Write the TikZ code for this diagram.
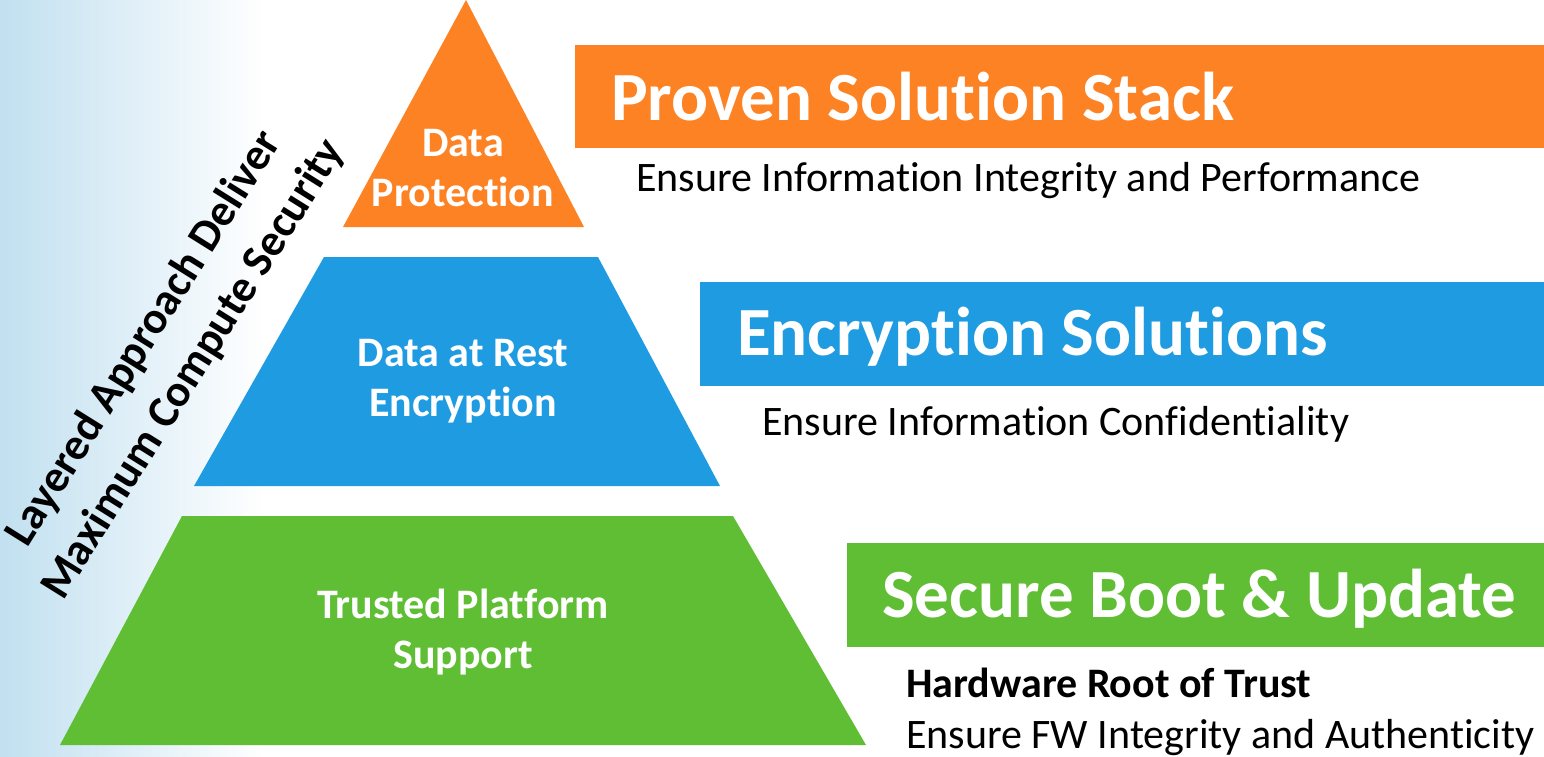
\documentclass[tikz,border=0pt]{standalone}
\usepackage{fontspec}
\setmainfont{Carlito}[RawFeature={-liga;-clig;-calt;-dlig}]
\usetikzlibrary{positioning}

\definecolor{layerorange}{RGB}{253,130,36}
\definecolor{layerblue}{RGB}{31,155,225}
\definecolor{layergreen}{RGB}{95,190,52}
\definecolor{skyblue}{RGB}{193,224,240}

\begin{document}
\begin{tikzpicture}[x=1pt, y=-1pt,
    layer/.style={text=white, align=center, font=\fontsize{42}{50}\selectfont\bfseries},
    headline/.style={anchor=base west, inner sep=0pt, text=white, font=\fontsize{69}{80}\selectfont\bfseries},
    tagline/.style={anchor=base west, inner sep=0pt, text=black, font=\fontsize{42}{51}\selectfont}]
  \useasboundingbox (0,0) rectangle (1544,756);

  % Nền chuyển màu bên trái
  \fill[white] (0,0) rectangle (1544,756);
  \shade[left color=skyblue, right color=white] (0,0) rectangle (265,756);

  % Kim tự tháp ba tầng
  \fill[layerorange] (466,0) -- (584,227) -- (343,227) -- cycle;
  \fill[layerblue] (324,257) -- (598,257) -- (720,486) -- (194,486) -- cycle;
  \fill[layergreen] (182,516) -- (733,516) -- (866,745) -- (60,745) -- cycle;

  \node[layer] (protect) at (463,168) {Data\\Protection};
  \node[layer] (rest) at (463,381) {Data at Rest\\Encryption};
  \node[layer] (trusted) at (463,632) {Trusted Platform\\Support};

  % Chữ nghiêng
  \node[rotate=58, align=center, inner sep=0pt, font=\fontsize{45}{58}\selectfont\bfseries] (motto) at (169,354)
    {Layered Approach Deliver\\Maximum Compute Security};

  % Các dải tiêu đề
  \fill[layerorange] (575,45) rectangle (1544,148);
  \fill[layerblue] (700,282) rectangle (1544,386);
  \fill[layergreen] (847,543) rectangle (1544,647);

  \node[headline] (stack) at (611,120) {Proven Solution Stack};
  \node[headline] (crypt) at (737,355) {Encryption Solutions};
  \node[headline] (boot) at (882,617) {Secure Boot \& Update};

  \node[tagline] (integrity) at (636,191) {Ensure Information Integrity and Performance};
  \node[tagline] (confid) at (762,435) {Ensure Information Confidentiality};
  \node[tagline, font=\fontsize{42}{51}\selectfont\bfseries] (root) at (906,697) {Hardware Root of Trust};
  \node[tagline] (fw) at (906,748) {Ensure FW Integrity and Authenticity};
\end{tikzpicture}
\end{document}
